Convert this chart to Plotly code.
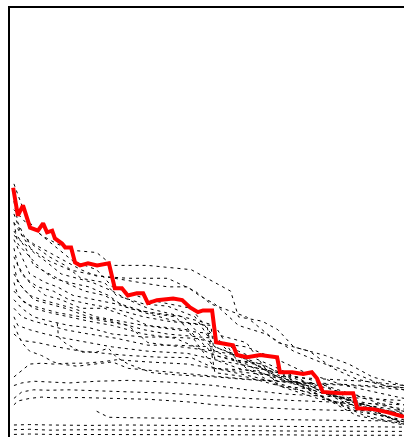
import plotly.graph_objects as go

# Best-so-far traces of the individual runs (generation, objective)
runs = {
    "A1": ([1, 3, 5, 8, 12, 16, 22, 26, 35, 46, 52, 58, 68, 79, 88, 100],
           [59, 54, 50, 47, 44, 41, 39, 35, 32, 30, 23, 20, 16, 11, 7, 5.5]),
    "A2": ([1, 2, 4, 7, 10, 14, 18, 24, 27, 34, 40, 47, 52, 60, 69, 78, 88, 100],
           [55, 50, 46, 44, 42, 40, 37, 36, 33, 31, 30.5, 28, 21, 18, 14, 10, 6, 4]),
    "A3": ([1, 3, 6, 9, 13, 17, 21, 26, 30, 35, 44, 52, 57, 64, 70, 80, 90, 100],
           [52, 47, 43, 41, 38, 37, 36, 34, 32, 30, 28, 20, 18, 17, 14, 9, 6, 3.5]),
    "A4": ([1, 2, 5, 8, 11, 15, 20, 25, 28, 35, 42, 52, 60, 68, 76, 85, 100],
           [50, 45, 42, 39, 37, 36, 35, 33, 31, 29, 28, 19, 17, 13, 12, 8, 3.5]),
    "A5": ([1, 4, 6, 10, 14, 19, 24, 30, 36, 44, 52, 58, 68, 78, 88, 100],
           [48, 44, 40, 38, 36, 34, 33, 30, 29, 28, 26, 17, 15, 13, 8, 3]),
    "A6": ([1, 3, 5, 9, 12, 16, 22, 27, 34, 42, 51, 52, 58, 68, 79, 90, 100],
           [46, 42, 38, 36, 35, 33, 32, 31, 29, 27, 26, 18, 16, 14, 11, 7, 3]),
    "A7": ([1, 2, 4, 7, 11, 15, 20, 26, 34, 40, 50, 52, 60, 68, 78, 88, 100],
           [44, 40, 37, 35, 34, 32, 31, 30, 28, 27, 26, 15, 14, 12, 10, 5, 2.8]),
    "A8": ([1, 3, 6, 9, 13, 18, 24, 30, 35, 45, 52, 62, 70, 80, 90, 100],
           [42, 38, 35, 33, 32, 30, 30, 28, 26, 25, 16, 14, 12, 9, 5, 3]),
    "A9": ([1, 2, 5, 8, 12, 16, 22, 28, 34, 42, 52, 60, 68, 78, 90, 100],
           [40, 36, 33, 32, 31, 30, 28, 27, 26, 25, 24, 22, 12, 9, 7, 4.5]),
    "A10": ([1, 3, 6, 10, 14, 20, 26, 34, 40, 52, 60, 68, 78, 88, 100],
            [38, 35, 32, 31, 30, 28, 27, 25, 24, 23, 16, 12, 11, 8, 5]),
    "A11": ([1, 2, 4, 8, 12, 18, 24, 30, 35, 44, 52, 58, 68, 79, 88, 100],
            [36, 33, 31, 30, 29, 28, 27, 26, 22, 21, 20, 19, 14, 11, 8, 5.2]),
    "A12": ([1, 3, 6, 10, 15, 20, 26, 34, 42, 52, 62, 70, 80, 90, 100],
            [34, 32, 30, 29, 28, 27, 26, 24, 23, 19, 17, 13, 12, 9, 6]),
    "B1": ([1, 4, 8, 12, 16, 22, 26, 35, 46, 50, 56, 58, 64, 68, 72, 80, 86, 92, 100],
           [53, 50, 47, 45, 43.5, 43, 40, 40, 39, 37, 34, 28, 27, 25, 21, 19, 17, 14, 12]),
    "B2": ([1, 3, 6, 10, 14, 18, 22, 30, 34, 40, 47, 51, 60, 68, 76, 82, 88, 100],
           [50, 47, 45, 43, 41, 39, 37.5, 37, 37, 37, 34, 31, 28, 22, 20, 16, 13.5, 11]),
    "B3": ([1, 5, 10, 15, 20, 26, 33, 40, 45, 48, 52, 58, 65, 72, 80, 87, 95, 100],
           [47, 44, 41, 39, 38, 37, 36, 35, 35, 33, 31, 26, 24, 20, 17, 15, 12, 11.5]),
    "C1": ([1, 2, 3, 5, 8, 11, 13, 17, 22, 26, 30, 36, 44, 52, 60, 70, 80, 90, 100],
           [26, 24, 22, 20, 19, 17.5, 17, 16.5, 17, 17.5, 16, 15.5, 14.8, 14, 13.5, 13, 12.5, 12, 11.5]),
    "C2": ([12, 12.3, 14, 18, 22, 25, 27, 30, 36, 42, 48, 52, 60, 70, 80, 90, 100],
           [26.5, 23.3, 21.9, 19.8, 19.8, 20.7, 18.6, 17, 15, 14.5, 14.2, 14, 13.4, 12.8, 12.3, 11.8, 11]),
    "C3": ([1, 3, 5, 8, 11, 15, 19, 24, 27, 35, 45, 52, 60, 70, 80, 90, 100],
           [14, 15.6, 17, 17.2, 17, 17.2, 17.2, 17.6, 18, 17.5, 17, 16, 15, 14, 13.5, 13, 12]),
    "C4": ([1, 3, 6, 10, 15, 22, 30, 40, 52, 60, 70, 80, 90, 100],
           [12, 12.6, 13, 12.8, 12.6, 13, 13.2, 12.8, 12, 11, 10, 9.5, 9, 8.5]),
    "C5": ([1, 3, 6, 10, 15, 22, 30, 40, 52, 60, 72, 84, 100],
           [9, 10.5, 11, 10.9, 11, 10.8, 10.5, 10.2, 9.5, 9, 8.5, 8, 7.5]),
    "C6": ([1, 2, 5, 8, 12, 18, 26, 35, 45, 52, 60, 72, 84, 100],
           [7.5, 8.4, 9, 9.3, 9.1, 9.2, 9, 8.8, 8.2, 7.5, 7, 6.5, 6.2, 6]),
    "C7": ([22, 25, 30, 40, 52, 60, 70, 80, 90, 100],
           [6, 4.6, 4.5, 4.4, 4.3, 4.2, 4, 3.9, 3.8, 3.7]),
    "C8": ([1, 5, 10, 20, 30, 40, 50, 60, 70, 80, 90, 100],
           [2.8, 2.9, 2.8, 2.7, 2.8, 2.7, 2.6, 2.6, 2.5, 2.4, 2.4, 2.3]),
    "C9": ([1, 5, 10, 20, 30, 40, 50, 60, 70, 80, 90, 100],
           [1.7, 1.8, 1.6, 1.7, 1.6, 1.6, 1.5, 1.5, 1.4, 1.4, 1.3, 1.3]),
    "C10": ([1, 5, 10, 20, 30, 40, 50, 60, 70, 80, 90, 100],
            [0.6, 0.7, 0.6, 0.6, 0.5, 0.6, 0.5, 0.5, 0.5, 0.4, 0.4, 0.4]),
    "D1": ([1, 3, 6, 10, 15, 20, 26, 34, 40, 47, 52, 60, 68, 75, 85, 100],
           [32, 30, 28, 27, 26, 25.5, 24, 23.3, 23.3, 23, 22, 21, 18, 15, 12, 9]),
    "D2": ([1, 3, 6, 10, 14, 20, 27, 35, 42, 52, 58, 66, 74, 84, 100],
           [30, 28, 27, 26, 25, 24, 23, 21.4, 21.4, 21, 19, 16, 13, 10.5, 7.5]),
    "D3": ([1, 2, 5, 9, 14, 20, 26, 35, 45, 52, 58, 68, 78, 90, 100],
           [28, 26, 25, 24, 23, 22, 21, 20, 19.5, 18, 17, 15, 10.5, 8, 6.5]),
    "D4": ([1, 3, 7, 12, 18, 24, 30, 38, 46, 52, 62, 70, 80, 90, 100],
           [24, 22.5, 22, 21, 20, 19.5, 19, 18.6, 18.5, 16, 15.5, 13, 10, 7.5, 6]),
}

# Reference trace drawn on top
best_x = [0.8, 2.0, 3.3, 5.1, 7.1, 8.4, 9.4, 10.7, 11.4, 13.2, 14.0, 15.5, 16.5, 17.8,
          19.8, 22.1, 25.1, 26.6, 28.4, 29.9, 32.2, 33.8, 35.0, 37.3, 41.4, 43.7, 45.7,
          47.7, 49.0, 51.3, 52.3, 54.1, 56.6, 57.6, 60.2, 63.5, 67.8, 68.5, 71.6, 74.4,
          76.6, 77.9, 79.4, 83.8, 87.1, 88.1, 92.1, 95.7, 100]
best_y = [58.1, 51.6, 54.0, 48.8, 48.1, 49.8, 47.7, 48.1, 46.3, 45.1, 44.2, 44.2, 40.7,
          40.0, 40.5, 40.0, 40.5, 34.7, 34.7, 33.0, 33.5, 33.5, 31.2, 31.9, 32.3, 31.9,
          30.2, 29.1, 29.5, 29.5, 22.1, 21.9, 21.4, 19.1, 18.6, 19.1, 18.6, 15.1, 15.1,
          14.7, 15.1, 13.7, 10.5, 10.2, 10.2, 6.7, 6.5, 5.8, 4.7]

fig = go.Figure()
for name, (xs, ys) in runs.items():
    fig.add_trace(go.Scatter(
        x=xs, y=ys, mode="lines", name=name,
        line=dict(color="black", width=1, dash="3px,4px"),
        hoverinfo="skip", showlegend=False,
    ))

fig.add_trace(go.Scatter(
    x=best_x, y=best_y, mode="lines", name="best",
    line=dict(color="#ff0000", width=4),
    hoverinfo="skip", showlegend=False,
))

fig.update_layout(
    width=404, height=437,
    margin=dict(l=10, t=8, r=0, b=0, pad=0),
    paper_bgcolor="white", plot_bgcolor="white",
    xaxis=dict(range=[0, 100], side="top", showline=True, linecolor="black",
               linewidth=2, showgrid=False, zeroline=False, ticks="",
               showticklabels=False),
    yaxis=dict(range=[0, 100], showline=True, linecolor="black", linewidth=2,
               showgrid=False, zeroline=False, ticks="", showticklabels=False),
)

fig.write_html("out.html")
